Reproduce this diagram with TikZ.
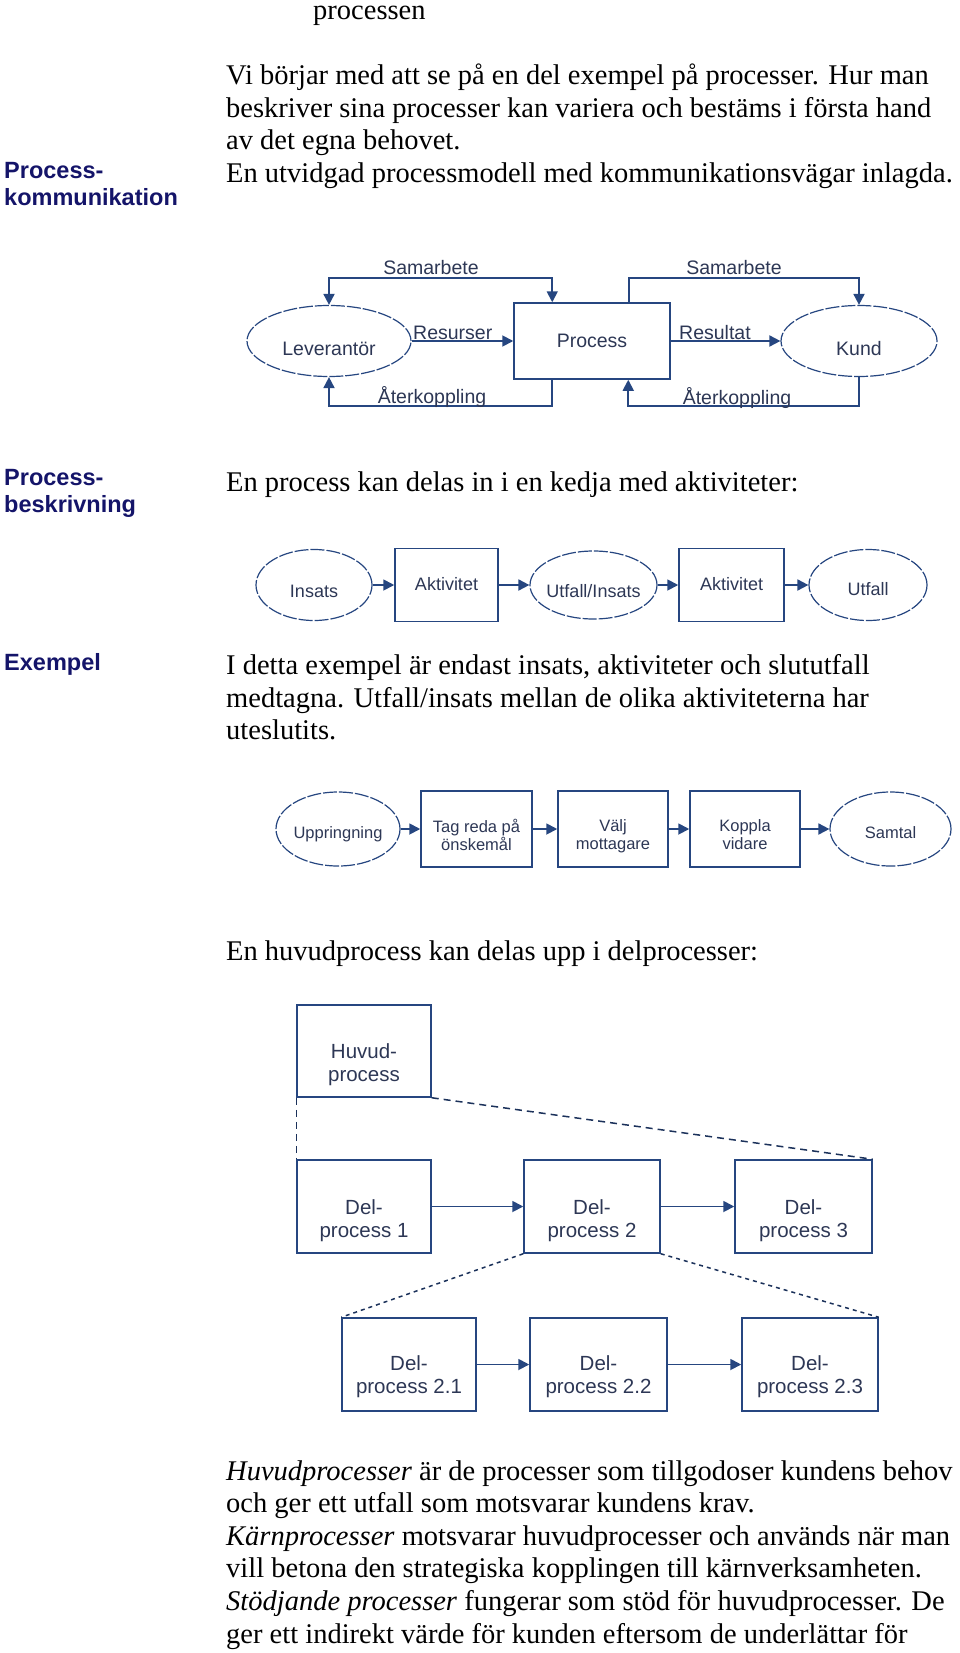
\documentclass[tikz,border=0pt]{standalone}
\usepackage{fontspec}
\setmainfont{Liberation Serif}
\setsansfont{Liberation Sans}
\usetikzlibrary{shapes.geometric,arrows.meta,calc}
\definecolor{lc}{RGB}{38,70,128}
\definecolor{tc}{RGB}{45,55,85}
\definecolor{hc}{RGB}{20,20,105}
\begin{document}
\begin{tikzpicture}[x=1pt,y=-1pt,
  body/.style={anchor=base west, inner sep=0pt, font=\fontsize{28.5}{32.6}\selectfont},
  head/.style={anchor=base west, inner sep=0pt, text=hc, font=\sffamily\bfseries\fontsize{23.5}{27}\selectfont},
  ell/.style={ellipse, draw=lc, line width=1.2pt, dash pattern=on 14pt off 2pt, inner sep=0pt, text=tc},
  box/.style={rectangle, draw=lc, line width=1.5pt, inner sep=0pt, text=tc, align=center},
  conn/.style={draw=lc, line width=1.8pt},
  arrowend/.style={-{Triangle[length=11pt,width=11pt]}},
  bothends/.style={{Triangle[length=11pt,width=11pt]}-{Triangle[length=11pt,width=11pt]}},
  fa/.style={font=\sffamily\fontsize{19.5}{22}\selectfont},
  fb/.style={font=\sffamily\fontsize{18}{20}\selectfont},
  fc/.style={font=\sffamily\fontsize{16.5}{18}\selectfont},
  fd/.style={font=\sffamily\fontsize{20.5}{23}\selectfont},
  lt/.style={text=tc, align=center, inner sep=0pt},
  lab/.style={text=tc, inner sep=0pt, fa},
  dashline/.style={draw=lc!70!black, line width=1.5pt, dash pattern=on 7pt off 5pt},
  dotline/.style={draw=lc!70!black, line width=1.5pt, dash pattern=on 4pt off 4pt}
]
\useasboundingbox (0,0) rectangle (960,1653);

% texts
\node[body] (t0) at (313,20) {processen};
\node[body] (t1) at (226,84.5) {\vtop{\hbox{Vi börjar med att se på en del exempel på processer. Hur man}\hbox{beskriver sina processer kan variera och bestäms i första hand}\hbox{av det egna behovet.}\hbox{En utvidgad processmodell med kommunikationsvägar inlagda.}}};
\node[head] (h1) at (4,179) {\vtop{\hbox{Process-}\hbox{kommunikation}}};

% diagram 1
\node[ell, minimum width=164pt, minimum height=71pt, label={[fa,lt,yshift=-8pt]center:Leverantör}] (lev) at (329,341) {};
\node[box, minimum width=156pt, minimum height=76pt, label={[fa,lt]center:Process}] (proc) at (592,341) {};
\node[ell, minimum width=156pt, minimum height=71pt, label={[fa,lt,yshift=-8pt]center:Kund}] (kund) at (859,341) {};
\draw[conn, bothends] (lev.north) -- ++(0,-27) -| ($(proc.north west)+(39,0)$);
\draw[conn, arrowend] ($(proc.north west)+(116,0)$) |- ($(kund.north)+(0,-27)$) -- (kund.north);
\draw[conn, arrowend] (lev.east) -- (proc.west);
\draw[conn, arrowend] (proc.east) -- (kund.west);
\draw[conn, arrowend] ($(proc.south west)+(39,0)$) |- ($(lev.south)+(0,29)$) -- (lev.south);
\draw[conn, arrowend] (kund.south) -- ++(0,29) -| ($(proc.south west)+(115,0)$);
\node[lab] (l1) at (431,268) {Samarbete};
\node[lab] (l2) at (734,268) {Samarbete};
\node[lab, anchor=west] (l3) at (413,333) {Resurser};
\node[lab, anchor=west] (l4) at (679,333) {Resultat};
\node[lab] (l5) at (432,397) {Återkoppling};
\node[lab] (l6) at (737,398) {Återkoppling};

% section 2
\node[head] (h2) at (4,485) {\vtop{\hbox{Process-}\hbox{beskrivning}}};
\node[body] (t2) at (226,491) {En process kan delas in i en kedja med aktiviteter:};
\node[ell, minimum width=116pt, minimum height=71pt, label={[fb,lt,yshift=-6pt]center:Insats}] (ins) at (314,585) {};
\node[box, minimum width=103pt, minimum height=73pt, label={[fb,lt,yshift=1pt]center:Aktivitet}] (a1) at (446.5,585) {};
\node[ell, minimum width=127pt, minimum height=68pt, label={[fb,lt,yshift=-6pt]center:Utfall/Insats}] (ui) at (593.5,585) {};
\node[box, minimum width=105pt, minimum height=73pt, label={[fb,lt,yshift=1pt]center:Aktivitet}] (a2) at (731.5,585) {};
\node[ell, minimum width=118pt, minimum height=71pt, label={[fb,lt,yshift=-4pt]center:Utfall}] (utf) at (868,585) {};
\draw[conn, arrowend] (ins.east) -- (a1.west);
\draw[conn, arrowend] (a1.east) -- (ui.west);
\draw[conn, arrowend] (ui.east) -- (a2.west);
\draw[conn, arrowend] (a2.east) -- (utf.west);

% section 3
\node[head] (h3) at (4,670) {Exempel};
\node[body] (t3) at (226,674.5) {\vtop{\hbox{I detta exempel är endast insats, aktiviteter och slututfall}\hbox{medtagna. Utfall/insats mellan de olika aktiviteterna har}\hbox{uteslutits.}}};
\node[ell, minimum width=124pt, minimum height=74pt, label={[fc,lt,yshift=-5pt]center:Uppringning}] (upp) at (338,829) {};
\node[box, minimum width=111pt, minimum height=76pt, label={[fc,lt,yshift=-6pt]center:{Tag reda på\\önskemål}}] (tag) at (476.5,829) {};
\node[box, minimum width=110pt, minimum height=76pt, label={[fc,lt,yshift=-7pt]center:{Välj\\mottagare}}] (valj) at (613,829) {};
\node[box, minimum width=110pt, minimum height=76pt, label={[fc,lt,yshift=-6pt]center:{Koppla\\vidare}}] (kop) at (745,829) {};
\node[ell, minimum width=121pt, minimum height=74pt, label={[fc,lt,yshift=-4pt]center:Samtal}] (sam) at (890.5,829) {};
\draw[conn, arrowend] (upp.east) -- (tag.west);
\draw[conn, arrowend] (tag.east) -- (valj.west);
\draw[conn, arrowend] (valj.east) -- (kop.west);
\draw[conn, arrowend] (kop.east) -- (sam.west);

% section 4
\node[body] (t4) at (226,960.5) {En huvudprocess kan delas upp i delprocesser:};
\node[box, minimum width=134pt, minimum height=92pt, label={[fd,lt,yshift=-14pt]center:{Huvud-\\process}}] (huv) at (364,1051) {};
\node[box, minimum width=134pt, minimum height=93pt, label={[fd,lt,yshift=-14pt]center:{Del-\\process 1}}] (d1) at (364,1206.5) {};
\node[box, minimum width=136pt, minimum height=93pt, label={[fd,lt,yshift=-14pt]center:{Del-\\process 2}}] (d2) at (592,1206.5) {};
\node[box, minimum width=137pt, minimum height=93pt, label={[fd,lt,yshift=-14pt]center:{Del-\\process 3}}] (d3) at (803.5,1206.5) {};
\node[box, minimum width=134pt, minimum height=93pt, label={[fd,lt,yshift=-12pt]center:{Del-\\process 2.1}}] (d21) at (409,1364.5) {};
\node[box, minimum width=137pt, minimum height=93pt, label={[fd,lt,yshift=-12pt]center:{Del-\\process 2.2}}] (d22) at (598.5,1364.5) {};
\node[box, minimum width=136pt, minimum height=93pt, label={[fd,lt,yshift=-12pt]center:{Del-\\process 2.3}}] (d23) at (810,1364.5) {};
\draw[dashline] (huv.south west) -- (d1.north west);
\draw[dashline] (huv.south east) -- (d3.north east);
\draw[dotline] (d2.south west) -- (d21.north west);
\draw[dotline] (d2.south east) -- (d23.north east);
\draw[conn, arrowend] (d1.east) -- (d2.west);
\draw[conn, arrowend] (d2.east) -- (d3.west);
\draw[conn, arrowend] (d21.east) -- (d22.west);
\draw[conn, arrowend] (d22.east) -- (d23.west);

\node[body] (t5) at (226,1480) {\vtop{\hbox{\textit{Huvudprocesser} är de processer som tillgodoser kundens behov}\hbox{och ger ett utfall som motsvarar kundens krav.}\hbox{\textit{Kärnprocesser} motsvarar huvudprocesser och används när man}\hbox{vill betona den strategiska kopplingen till kärnverksamheten.}\hbox{\textit{Stödjande processer} fungerar som stöd för huvudprocesser. De}\hbox{ger ett indirekt värde för kunden eftersom de underlättar för}}};
\end{tikzpicture}
\end{document}
